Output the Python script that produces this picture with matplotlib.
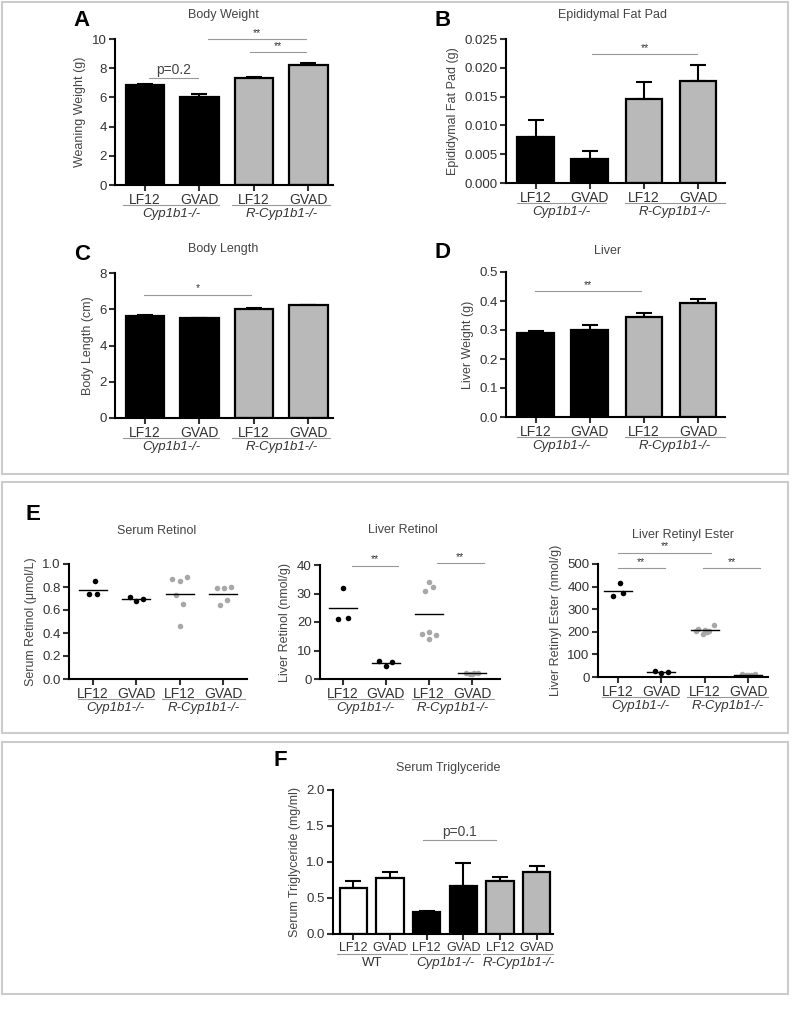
import numpy as np
import matplotlib.pyplot as plt
from matplotlib.patches import Rectangle

plt.rcParams['font.family'] = ['Liberation Sans', 'DejaVu Sans']

W, H = 800, 1028

###### DATA ######

diet = ["LF12", "GVAD", "LF12", "GVAD"]
strain = ["Cyp1b1-/-", "R-Cyp1b1-/-"]

weight_mean = [6.85, 6.0, 7.3, 8.2]
weight_sem = [0.08, 0.2, 0.12, 0.18]

fat_mean = [0.0080, 0.0042, 0.0145, 0.0177]
fat_sem = [0.0029, 0.0014, 0.0030, 0.0028]

length_mean = [5.65, 5.5, 6.02, 6.24]
length_sem = [0.03, 0.03, 0.03, 0.02]

liver_mean = [0.289, 0.300, 0.346, 0.393]
liver_sem = [0.006, 0.017, 0.011, 0.014]

serum_retinol = [[0.85, 0.74, 0.74],
                 [0.71, 0.68, 0.70],
                 [0.87, 0.85, 0.89, 0.73, 0.65, 0.46],
                 [0.79, 0.79, 0.80, 0.64, 0.69]]
serum_dx = [[0.05, -0.09, 0.1],
            [-0.15, 0.0, 0.15],
            [-0.17, 0.0, 0.17, -0.08, 0.08, 0.0],
            [-0.15, 0.02, 0.18, -0.07, 0.1]]

liver_retinol = [[32.0, 21.0, 21.5],
                 [6.2, 4.7, 6.1],
                 [34.0, 31.0, 32.4, 16.5, 15.8, 15.3, 14.0],
                 [2.2, 1.8, 2.0, 2.1, 1.7]]
liver_dx = [[0.0, -0.12, 0.12],
            [-0.15, 0.0, 0.15],
            [0.0, -0.1, 0.1, 0.0, -0.15, 0.16, 0.0],
            [-0.15, -0.05, 0.05, 0.15, 0.0]]

retinyl_ester = [[418, 358, 372],
                 [25, 19, 24],
                 [230, 213, 210, 205, 190, 203, 198],
                 [12, 8, 10, 14, 9]]
ester_dx = [[0.05, -0.1, 0.12],
            [-0.15, 0.0, 0.15],
            [0.2, -0.15, 0.0, 0.1, -0.05, -0.2, 0.05],
            [-0.15, -0.05, 0.05, 0.15, 0.0]]

tg_diet = ["LF12", "GVAD", "LF12", "GVAD", "LF12", "GVAD"]
tg_strain = ["WT", "Cyp1b1-/-", "R-Cyp1b1-/-"]
tg_mean = [0.64, 0.78, 0.30, 0.67, 0.74, 0.86]
tg_sem = [0.10, 0.08, 0.02, 0.32, 0.05, 0.09]

BLACK = "black"
GRAY = "#b9b9b9"
DOT_GRAY = "#a8a8a8"
bar_colors = [BLACK, BLACK, GRAY, GRAY]
tg_colors = ["white", "white", BLACK, BLACK, GRAY, GRAY]

###### HELPERS ######

fig = plt.figure(figsize=(W / 100, H / 100), dpi=100)


def px_axes(x0, y0, x1, y1):
    return fig.add_axes([x0 / W, 1 - y1 / H, (x1 - x0) / W, (y1 - y0) / H])


def ftext(x, y, s, **kw):
    fig.text(x / W, 1 - y / H, s, ha="center", va="center", **kw)


def style(ax, labels, xsize=10):
    for s in ["top", "right"]:
        ax.spines[s].set_visible(False)
    for s in ["left", "bottom"]:
        ax.spines[s].set_linewidth(1.5)
    ax.tick_params(width=1.5, length=4, pad=2, colors="#333333")
    ax.tick_params(axis="y", labelsize=9.5)
    ax.set_xticks(range(len(labels)))
    ax.set_xticklabels(labels, fontsize=xsize)


def groups(ax, spans, names, italic):
    h = ax.get_position().height * H
    for (a, b), name, it in zip(spans, names, italic):
        ax.plot([a, b], [-20 / h, -20 / h], color="#999999", lw=0.8,
                transform=ax.get_xaxis_transform(), clip_on=False)
        ax.text((a + b) / 2, -29 / h, name, transform=ax.get_xaxis_transform(),
                ha="center", va="center", fontsize=9.5, color="#333333",
                style="italic" if it else "normal")


def sig(ax, x0, x1, y, s):
    ax.plot([x0, x1], [y, y], color="#999999", lw=0.8, clip_on=False)
    ax.annotate(s, ((x0 + x1) / 2, y), xytext=(0, 1), textcoords="offset points",
                ha="center", va="bottom", fontsize=7.5, color="#333333",
                annotation_clip=False)


def bars(ax, means, sems, colors, width):
    x = np.arange(len(means))
    ax.bar(x, means, width=width, color=colors, edgecolor="black", linewidth=1.6, zorder=2)
    ax.errorbar(x, means, yerr=[np.zeros(len(sems)), sems], fmt="none", ecolor="black",
                elinewidth=1.5, capsize=6, capthick=1.5, zorder=1)


def dots(ax, data, dx):
    for i, (vals, offs) in enumerate(zip(data, dx)):
        c = BLACK if i < 2 else DOT_GRAY
        ax.plot(i + np.array(offs), vals, "o", color=c, ms=4, mec="none", clip_on=False)
        m = np.mean(vals)
        ax.plot([i - 0.32, i + 0.32], [m, m], color="black", lw=1)


spans4 = [(-0.4, 1.35), (1.6, 3.4)]

###### PANEL A ######
axA = px_axes(115, 39, 333, 185)
bars(axA, weight_mean, weight_sem, bar_colors, 0.7)
axA.set_xlim(-0.55, 3.45)
axA.set_ylim(0, 10)
axA.set_yticks([0, 2, 4, 6, 8, 10])
style(axA, diet)
axA.set_ylabel("Weaning Weight (g)", fontsize=9, color="#444444")
groups(axA, spans4, strain, [True, True])
sig(axA, 0.07, 0.98, 7.3, "")
axA.annotate("p=0.2", (0.52, 7.3), xytext=(0, 1), textcoords="offset points",
             ha="center", va="bottom", fontsize=10, color="#444444")
sig(axA, 1.16, 2.96, 10.0, "**")
sig(axA, 1.93, 2.96, 9.1, "**")

###### PANEL B ######
axB = px_axes(506, 39, 725, 183)
bars(axB, fat_mean, fat_sem, bar_colors, 0.68)
axB.set_xlim(-0.55, 3.5)
axB.set_ylim(0, 0.025)
axB.set_yticks(np.arange(0, 0.0251, 0.005))
axB.set_yticklabels([f"{v:.3f}" for v in np.arange(0, 0.0251, 0.005)])
style(axB, diet)
axB.set_ylabel("Epididymal Fat Pad (g)", fontsize=9, color="#444444")
groups(axB, [(-0.35, 1.3), (1.65, 3.5)], strain, [True, True])
sig(axB, 1.04, 2.98, 0.0224, "**")

###### PANEL C ######
axC = px_axes(115, 273, 333, 418)
bars(axC, length_mean, length_sem, bar_colors, 0.7)
axC.set_xlim(-0.55, 3.45)
axC.set_ylim(0, 8)
axC.set_yticks([0, 2, 4, 6, 8])
style(axC, diet)
axC.set_ylabel("Body Length (cm)", fontsize=9, color="#444444")
groups(axC, spans4, strain, [True, True])
sig(axC, -0.02, 1.95, 6.8, "*")

###### PANEL D ######
axD = px_axes(506, 272, 725, 417)
bars(axD, liver_mean, liver_sem, bar_colors, 0.68)
axD.set_xlim(-0.55, 3.5)
axD.set_ylim(0, 0.5)
axD.set_yticks(np.arange(0, 0.51, 0.1))
axD.set_yticklabels([f"{v:.1f}" for v in np.arange(0, 0.51, 0.1)])
style(axD, diet)
axD.set_ylabel("Liver Weight (g)", fontsize=9, color="#444444")
groups(axD, [(-0.35, 1.3), (1.65, 3.5)], strain, [True, True])
sig(axD, -0.02, 1.95, 0.433, "**")

###### PANEL E ######
axE1 = px_axes(69, 564, 247, 679)
dots(axE1, serum_retinol, serum_dx)
axE1.set_xlim(-0.55, 3.55)
axE1.set_ylim(0, 1.0)
axE1.set_yticks(np.arange(0, 1.01, 0.2))
axE1.set_yticklabels([f"{v:.1f}" for v in np.arange(0, 1.01, 0.2)])
style(axE1, diet)
axE1.set_ylabel("Serum Retinol (\u03bcmol/L)", fontsize=9, color="#444444")
groups(axE1, [(-0.35, 1.4), (1.6, 3.5)], strain, [True, True])

axE2 = px_axes(320, 565, 500, 679)
dots(axE2, liver_retinol, liver_dx)
axE2.set_xlim(-0.53, 3.65)
axE2.set_ylim(0, 40)
axE2.set_yticks([0, 10, 20, 30, 40])
style(axE2, diet)
axE2.set_ylabel("Liver Retinol (nmol/g)", fontsize=9, color="#444444")
groups(axE2, [(-0.35, 1.4), (1.6, 3.5)], strain, [True, True])
sig(axE2, 0.21, 1.29, 39.7, "**")
sig(axE2, 2.18, 3.27, 40.6, "**")

axE3 = px_axes(598, 564, 768, 677)
dots(axE3, retinyl_ester, ester_dx)
axE3.set_xlim(-0.45, 3.45)
axE3.set_ylim(0, 500)
axE3.set_yticks([0, 100, 200, 300, 400, 500])
style(axE3, diet)
axE3.set_ylabel("Liver Retinyl Ester (nmol/g)", fontsize=9, color="#444444")
groups(axE3, [(-0.35, 1.4), (1.6, 3.45)], strain, [True, True])
sig(axE3, 0.0, 2.15, 550, "**")
sig(axE3, 0.0, 1.08, 481, "**")
sig(axE3, 1.97, 3.27, 481, "**")

###### PANEL F ######
axF = px_axes(333, 790, 553, 934)
bars(axF, tg_mean, tg_sem, tg_colors, 0.75)
axF.set_xlim(-0.56, 5.45)
axF.set_ylim(0, 2.0)
axF.set_yticks(np.arange(0, 2.01, 0.5))
axF.set_yticklabels([f"{v:.1f}" for v in np.arange(0, 2.01, 0.5)])
style(axF, tg_diet, xsize=9)
axF.set_ylabel("Serum Triglyceride (mg/ml)", fontsize=9, color="#444444")
groups(axF, [(-0.45, 1.45), (1.55, 3.45), (3.55, 5.45)], tg_strain, [False, True, True])
sig(axF, 1.9, 3.9, 1.30, "")
axF.annotate("p=0.1", (2.9, 1.30), xytext=(0, 1), textcoords="offset points",
             ha="center", va="bottom", fontsize=10, color="#444444")

###### TITLES, LETTERS, BOXES ######
titles = [("Body Weight", 223, 15), ("Epididymal Fat Pad", 613, 15),
          ("Body Length", 223, 249), ("Liver", 608, 251),
          ("Serum Retinol", 157, 531), ("Liver Retinol", 403, 530),
          ("Liver Retinyl Ester", 683, 535), ("Serum Triglyceride", 448, 768)]
for s, x, y in titles:
    ftext(x, y, s, fontsize=9, color="#444444")

letters = [("A", 82, 21), ("B", 443, 20), ("C", 82, 254), ("D", 443, 253),
           ("E", 33, 515), ("F", 280, 761)]
for s, x, y in letters:
    ftext(x, y, s, fontsize=16, fontweight="bold")

for y0, y1 in [(2, 474), (482, 733), (742, 994)]:
    fig.add_artist(Rectangle((2 / W, 1 - y1 / H), 786 / W, (y1 - y0) / H,
                             transform=fig.transFigure, fill=False,
                             edgecolor="#cccccc", lw=1.5))

fig.savefig("out.png", dpi=100)
